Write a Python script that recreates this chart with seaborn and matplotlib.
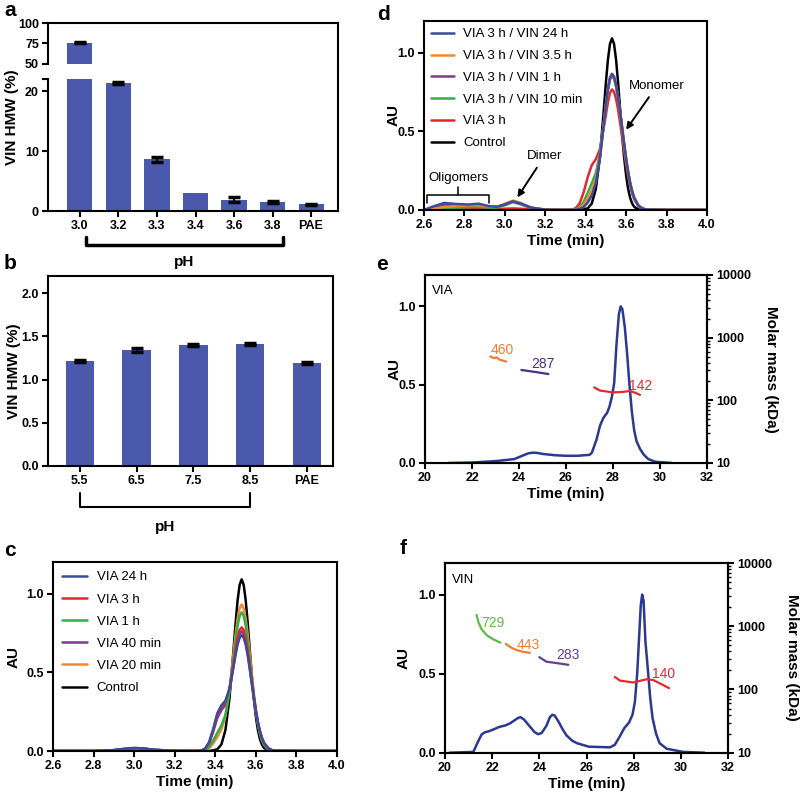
import numpy as np
import pandas as pd
import matplotlib.pyplot as plt
import seaborn as sns
from matplotlib.lines import Line2D
from matplotlib.ticker import FormatStrFormatter, NullFormatter

W, H = 800, 802

# ---------------- data: panels a / b (HMW %) ----------------
ph_a = ['3.0', '3.2', '3.3', '3.4', '3.6', '3.8', 'PAE']
hmw_a = [76.0, 21.3, 8.6, 3.0, 1.9, 1.5, 1.1]
err_a = [1.0, 0.2, 0.45, 0.0, 0.45, 0.1, 0.1]

ph_b = ['5.5', '6.5', '7.5', '8.5', 'PAE']
hmw_b = [1.22, 1.34, 1.40, 1.41, 1.19]
err_b = [0.01, 0.025, 0.01, 0.01, 0.01]

# ---------------- data: panel c (SEC traces, VIA) ----------------
t_c = [2.60, 2.80, 2.90, 2.95, 3.00, 3.05, 3.10, 3.20, 3.30,
       3.33, 3.35, 3.37, 3.39, 3.41, 3.43, 3.45, 3.47, 3.49, 3.50, 3.51, 3.52, 3.53, 3.54,
       3.55, 3.56, 3.57, 3.58, 3.59, 3.60, 3.61, 3.62, 3.63, 3.64, 3.66, 3.68, 3.70, 3.80, 4.00]
c_via24h = [0, 0, 0.006, 0.014, 0.02, 0.016, 0.008, 0.001, 0,
            0.002, 0.015, 0.058, 0.14, 0.24, 0.29, 0.32, 0.39, 0.535, 0.61, 0.676, 0.719, 0.735, 0.719,
            0.674, 0.605, 0.52, 0.427, 0.336, 0.254, 0.183, 0.127, 0.084, 0.053, 0.019, 0.006, 0.0015, 0, 0]
c_via3h = [0, 0, 0.005, 0.012, 0.017, 0.014, 0.007, 0.001, 0,
           0.002, 0.015, 0.054, 0.136, 0.229, 0.281, 0.311, 0.40, 0.56, 0.647, 0.719, 0.768, 0.785, 0.768,
           0.717, 0.641, 0.546, 0.446, 0.348, 0.259, 0.184, 0.126, 0.082, 0.051, 0.017, 0.005, 0.001, 0, 0]
c_via1h = [0, 0, 0.005, 0.012, 0.017, 0.014, 0.007, 0.001, 0,
           0.001, 0.007, 0.026, 0.067, 0.116, 0.162, 0.229, 0.373, 0.59, 0.70, 0.795, 0.858, 0.88, 0.858,
           0.794, 0.698, 0.583, 0.461, 0.348, 0.248, 0.168, 0.108, 0.067, 0.039, 0.011, 0.003, 0.0006, 0, 0]
c_via40 = [0, 0, 0.005, 0.012, 0.017, 0.014, 0.007, 0.001, 0,
           0.002, 0.014, 0.049, 0.124, 0.209, 0.259, 0.294, 0.384, 0.541, 0.625, 0.696, 0.743, 0.76, 0.743,
           0.694, 0.62, 0.529, 0.432, 0.337, 0.251, 0.179, 0.122, 0.079, 0.049, 0.017, 0.005, 0.001, 0, 0]
c_via20 = [0, 0, 0.005, 0.012, 0.017, 0.014, 0.007, 0.001, 0,
           0.001, 0.005, 0.019, 0.048, 0.089, 0.137, 0.22, 0.385, 0.621, 0.739, 0.839, 0.906, 0.93, 0.906,
           0.839, 0.737, 0.616, 0.487, 0.367, 0.262, 0.178, 0.114, 0.07, 0.041, 0.012, 0.003, 0, 0, 0]
c_control = [0, 0, 0, 0, 0, 0, 0, 0, 0,
             0, 0, 0.001, 0.004, 0.011, 0.041, 0.133, 0.334, 0.644, 0.811, 0.956, 1.055, 1.09, 1.055,
             0.956, 0.811, 0.644, 0.479, 0.334, 0.218, 0.133, 0.076, 0.041, 0.02, 0.004, 0.001, 0, 0, 0]

# ---------------- data: panel d (SEC traces, VIA 3 h then VIN) ----------------
t_d = [2.60, 2.64, 2.70, 2.76, 2.82, 2.87, 2.92, 2.96, 3.00, 3.04, 3.08, 3.13, 3.20, 3.30,
       3.33, 3.35, 3.37, 3.39, 3.41, 3.43, 3.45, 3.47, 3.49, 3.50, 3.51, 3.52, 3.53, 3.54,
       3.55, 3.56, 3.57, 3.58, 3.59, 3.60, 3.61, 3.62, 3.63, 3.64, 3.66, 3.68, 3.70, 3.80, 4.00]
d_vin24h = [0, 0.02, 0.045, 0.038, 0.035, 0.04, 0.025, 0.02, 0.035, 0.055, 0.04, 0.015, 0.002, 0,
            0, 0.001, 0.006, 0.019, 0.047, 0.091, 0.172, 0.326, 0.551, 0.669, 0.768, 0.836, 0.86, 0.843,
            0.794, 0.718, 0.624, 0.522, 0.419, 0.323, 0.239, 0.17, 0.116, 0.077, 0.029, 0.0095, 0.0026, 0, 0]
d_vin35h = [0, 0.008, 0.018, 0.025, 0.03, 0.03, 0.022, 0.02, 0.04, 0.06, 0.045, 0.015, 0.002, 0,
            0.0005, 0.0025, 0.01, 0.033, 0.074, 0.125, 0.199, 0.338, 0.553, 0.666, 0.765, 0.831, 0.855, 0.838,
            0.789, 0.714, 0.621, 0.519, 0.416, 0.321, 0.238, 0.169, 0.115, 0.076, 0.029, 0.0094, 0.0026, 0, 0]
d_vin1h = [0, 0.015, 0.035, 0.03, 0.03, 0.035, 0.022, 0.02, 0.035, 0.055, 0.04, 0.015, 0.002, 0,
           0, 0.002, 0.008, 0.025, 0.058, 0.106, 0.185, 0.33, 0.555, 0.673, 0.772, 0.841, 0.865, 0.848,
           0.798, 0.722, 0.628, 0.525, 0.421, 0.324, 0.24, 0.171, 0.117, 0.077, 0.029, 0.0095, 0.0026, 0, 0]
d_vin10 = [0, 0.005, 0.01, 0.015, 0.018, 0.02, 0.015, 0.015, 0.03, 0.05, 0.035, 0.012, 0.002, 0,
           0.0007, 0.004, 0.016, 0.052, 0.11, 0.17, 0.235, 0.355, 0.556, 0.668, 0.763, 0.827, 0.85, 0.833,
           0.785, 0.71, 0.617, 0.516, 0.414, 0.319, 0.236, 0.168, 0.115, 0.076, 0.029, 0.0094, 0.0026, 0, 0]
d_via3h = [0, 0.002, 0.005, 0.006, 0.006, 0.006, 0.005, 0.005, 0.008, 0.01, 0.008, 0.004, 0.001, 0,
           0.002, 0.011, 0.042, 0.113, 0.21, 0.285, 0.322, 0.385, 0.528, 0.605, 0.685, 0.744, 0.765, 0.75,
           0.706, 0.639, 0.555, 0.464, 0.373, 0.287, 0.213, 0.151, 0.103, 0.068, 0.026, 0.0084, 0.0023, 0, 0]
d_control = [0, 0, 0, 0, 0, 0, 0, 0, 0, 0, 0, 0, 0, 0,
             0, 0, 0.001, 0.004, 0.011, 0.041, 0.133, 0.334, 0.644, 0.811, 0.956, 1.055, 1.09, 1.055,
             0.956, 0.811, 0.644, 0.479, 0.334, 0.218, 0.133, 0.076, 0.041, 0.02, 0.004, 0.001, 0, 0, 0]

# ---------------- data: panel e (SEC-MALS, VIA) ----------------
t_e = [21.0, 22.0, 23.0, 23.8, 24.2, 24.4, 24.6, 24.8, 25.0, 25.5,
       26.0, 26.5, 27.0, 27.1, 27.3, 27.45, 27.6, 27.75, 27.85, 27.95,
       28.05, 28.15, 28.25, 28.33, 28.4, 28.5, 28.6, 28.7, 28.8, 28.9,
       29.0, 29.15, 29.3, 29.5, 29.8, 30.5]
au_e = [0.0, 0.003, 0.012, 0.025, 0.05, 0.062, 0.066, 0.064, 0.058, 0.05,
        0.046, 0.046, 0.052, 0.065, 0.15, 0.24, 0.29, 0.32, 0.36, 0.42,
        0.51, 0.76, 0.95, 1.0, 0.98, 0.87, 0.70, 0.50, 0.33, 0.21,
        0.14, 0.09, 0.055, 0.025, 0.008, 0.0]
mm_e_t1 = [22.78, 22.95, 23.05, 23.15, 23.45]
mm_e_1 = [500, 470, 485, 450, 415]
mm_e_t2 = [24.1, 24.6, 25.25]
mm_e_2 = [305, 287, 263]
mm_e_t3 = [27.2, 27.45, 28.0, 28.4, 28.72, 28.95, 29.15]
mm_e_3 = [161, 143, 134, 136, 141, 132, 122]
mm_e_labels = ['460', '287', '142']

# ---------------- data: panel f (SEC-MALS, VIN) ----------------
t_f = [20.2, 21.2, 21.4, 21.55, 21.7, 21.85, 22.1, 22.3, 22.55, 22.75,
       22.95, 23.1, 23.2, 23.35, 23.6, 23.8, 23.95, 24.1, 24.3, 24.45,
       24.55, 24.65, 24.8, 25.0, 25.15, 25.4, 25.6, 26.1, 27.0, 27.2,
       27.4, 27.6, 27.8, 27.95, 28.05, 28.15, 28.22, 28.3, 28.36, 28.42,
       28.5, 28.6, 28.7, 28.8, 28.95, 29.1, 29.4, 30.1, 31.0]
au_f = [0, 0.005, 0.07, 0.115, 0.13, 0.135, 0.15, 0.163, 0.172, 0.185,
        0.205, 0.22, 0.225, 0.21, 0.165, 0.13, 0.117, 0.125, 0.17, 0.225,
        0.24, 0.235, 0.2, 0.145, 0.11, 0.075, 0.06, 0.038, 0.034, 0.05,
        0.1, 0.155, 0.19, 0.24, 0.32, 0.5, 0.7, 0.93, 1.0, 0.96,
        0.7, 0.53, 0.35, 0.22, 0.12, 0.06, 0.025, 0.005, 0]
mm_f_t1 = [21.34, 21.42, 21.55, 21.77, 22.05, 22.35]
mm_f_1 = [1510, 1150, 900, 720, 620, 550]
mm_f_t2 = [22.58, 22.8, 23.04, 23.3, 23.6]
mm_f_2 = [525, 460, 420, 395, 380]
mm_f_t3 = [24.0, 24.3, 24.87, 25.23]
mm_f_3 = [325, 275, 257, 245]
mm_f_t4 = [27.2, 27.42, 27.98, 28.55, 28.83, 29.2, 29.5]
mm_f_4 = [158, 138, 129, 145, 141, 120, 105]
mm_f_labels = ['729', '443', '283', '140']

# ---------------- style ----------------
sns.set_theme(style='ticks')
plt.rcParams['font.family'] = ['Liberation Sans', 'DejaVu Sans']
plt.rcParams.update({
    'font.weight': 'bold', 'axes.labelweight': 'bold',
    'axes.linewidth': 1.5, 'axes.edgecolor': 'black',
    'xtick.major.width': 1.5, 'ytick.major.width': 1.5,
    'xtick.major.size': 4, 'ytick.major.size': 4,
    'ytick.minor.width': 1.0, 'ytick.minor.size': 2.5,
    'xtick.labelsize': 9, 'ytick.labelsize': 9, 'axes.labelsize': 11,
    'xtick.color': 'black', 'ytick.color': 'black',
    'text.color': 'black', 'axes.labelcolor': 'black',
    'xtick.major.pad': 2.5, 'ytick.major.pad': 2.5,
})

bar_color = '#4a59ab'
c_blue, c_red, c_green = '#3b4c9e', '#e3272f', '#2fae4a'
c_purple, c_orange = '#7a3d96', '#f5892e'
navy = '#2b3990'
norm = {'weight': 'normal', 'size': 9.5}
LW = 1.8


def px_box(x0, y0, x1, y1):
    return [x0 / W, 1 - y1 / H, (x1 - x0) / W, (y1 - y0) / H]


fig = plt.figure(figsize=(W / 100, H / 100), dpi=100)


def bars(ax, cats, vals, errs, width):
    sns.barplot(x=cats, y=vals, color=bar_color, width=width, saturation=1,
                linewidth=0, ax=ax)
    idx = [i for i, e in enumerate(errs) if e > 0]
    ax.errorbar(idx, [vals[i] for i in idx], yerr=[errs[i] for i in idx], fmt='none',
                ecolor='black', elinewidth=1.5, capsize=4.5, capthick=2.5)


# ---- a (broken axis) ----
ax_at = fig.add_axes(px_box(48, 23, 338, 64))
ax_a = fig.add_axes(px_box(48, 79, 338, 211))
for ax in (ax_at, ax_a):
    bars(ax, ph_a, hmw_a, err_a, 0.65)
    ax.set_xlim(-0.83, 6.7)
ax_at.set_ylim(50, 100)
ax_at.set_yticks([50, 75, 100])
ax_at.spines['bottom'].set_visible(False)
ax_at.tick_params(bottom=False, labelbottom=False)
ax_a.set_ylim(0, 22)
ax_a.set_yticks([0, 10, 20, 22], ['0', '10', '20', ''])
ax_a.spines['top'].set_visible(False)
fig.add_artist(Line2D([338 / W, 338 / W], [1 - 64 / H, 1 - 79 / H], color='black', lw=1.5))
fig.text(12 / W, 1 - 117 / H, 'VIN HMW (%)', rotation=90, ha='center', va='center', fontsize=11)
tr = ax_a.get_xaxis_transform()
ax_a.plot([0.16, 0.16, 5.27, 5.27], [-0.197, -0.258, -0.258, -0.197], transform=tr,
          clip_on=False, color='black', lw=2.5)
ax_a.text(2.7, -0.39, 'pH', transform=tr, ha='center', va='center', fontsize=11)

# ---- b ----
ax_b = fig.add_axes(px_box(48, 276, 333, 466))
bars(ax_b, ph_b, hmw_b, err_b, 0.5)
ax_b.set_xlim(-0.56, 4.46)
ax_b.set_ylim(0, 2.2)
ax_b.set_yticks([0, 0.5, 1.0, 1.5, 2.0])
ax_b.yaxis.set_major_formatter(FormatStrFormatter('%.1f'))
ax_b.set_ylabel('VIN HMW (%)', labelpad=0)
tr = ax_b.get_xaxis_transform()
ax_b.plot([0, 0, 3, 3], [-0.142, -0.216, -0.216, -0.142], transform=tr,
          clip_on=False, color='black', lw=1.5)
ax_b.text(1.5, -0.32, 'pH', transform=tr, ha='center', va='center', fontsize=11)


def traces(ax, t, series, legend_kw):
    for name, vals, col in reversed(series):
        sns.lineplot(x=t, y=vals, color=col, lw=LW, label=name, ax=ax)
    h, l = ax.get_legend_handles_labels()
    ax.legend(h[::-1], l[::-1], loc='upper left', frameon=False, prop=norm,
              handletextpad=0.7, **legend_kw)
    ax.set_xlim(2.6, 4.0)
    ax.set_ylim(0, 1.2)
    ax.set_xticks([2.6, 2.8, 3.0, 3.2, 3.4, 3.6, 3.8, 4.0])
    ax.set_yticks([0, 0.5, 1.0])
    ax.xaxis.set_major_formatter(FormatStrFormatter('%.1f'))
    ax.yaxis.set_major_formatter(FormatStrFormatter('%.1f'))
    ax.set_xlabel('Time (min)', labelpad=2)


# ---- c ----
ax_c = fig.add_axes(px_box(53, 562, 337, 751))
traces(ax_c, t_c, [('VIA 24 h', c_via24h, c_blue), ('VIA 3 h', c_via3h, c_red),
                   ('VIA 1 h', c_via1h, c_green), ('VIA 40 min', c_via40, c_purple),
                   ('VIA 20 min', c_via20, c_orange), ('Control', c_control, 'black')],
       dict(handlelength=1.9, labelspacing=0.75, borderaxespad=0.3))
ax_c.set_ylabel('AU')

# ---- d ----
ax_d = fig.add_axes(px_box(424, 21, 707, 210))
traces(ax_d, t_d, [('VIA 3 h / VIN 24 h', d_vin24h, c_blue),
                   ('VIA 3 h / VIN 3.5 h', d_vin35h, c_orange),
                   ('VIA 3 h / VIN 1 h', d_vin1h, c_purple),
                   ('VIA 3 h / VIN 10 min', d_vin10, c_green),
                   ('VIA 3 h', d_via3h, c_red), ('Control', d_control, 'black')],
       dict(handlelength=1.7, labelspacing=0.72, borderaxespad=0.15))
ax_d.set_ylabel('AU', labelpad=-2)
arw = dict(arrowstyle='-|>', color='black', lw=1.4, mutation_scale=10, shrinkA=2, shrinkB=0)
ax_d.annotate('Monomer', xy=(3.60, 0.51), xytext=(3.753, 0.79), ha='center', va='center',
              arrowprops=arw, fontsize=9.5, fontweight='normal')
ax_d.annotate('Dimer', xy=(3.062, 0.08), xytext=(3.196, 0.342), ha='center', va='center',
              arrowprops=arw, fontsize=9.5, fontweight='normal')
ax_d.text(2.77, 0.205, 'Oligomers', ha='center', va='center', fontsize=9.5, fontweight='normal')
ax_d.plot([2.613, 2.613, 2.923, 2.923], [0.046, 0.095, 0.095, 0.046], color='black', lw=1.1)
ax_d.plot([2.77, 2.77], [0.095, 0.147], color='black', lw=1.1)


def mals(ax, t, au, segs, labels, tag, ylabel_pad, right_label_x):
    sns.lineplot(x=t, y=au, color=navy, lw=LW, ax=ax)
    ax.set_xlim(20, 32)
    ax.set_ylim(0, 1.2)
    ax.set_xticks([20, 22, 24, 26, 28, 30, 32])
    ax.set_yticks([0, 0.5, 1.0])
    ax.yaxis.set_major_formatter(FormatStrFormatter('%.1f'))
    ax.set_xlabel('Time (min)', labelpad=2)
    ax.set_ylabel('AU', labelpad=ylabel_pad)
    ax.text(20.3, 1.095, tag, ha='left', va='center', fontsize=9.5, fontweight='normal')
    ax2 = ax.twinx()
    for (st, sm, col), (lt, lm, txt) in zip(segs, labels):
        sns.lineplot(x=st, y=sm, color=col, lw=1.6, ax=ax2)
        ax2.text(lt, lm, txt, color=col, ha='center', va='center', fontsize=10,
                 fontweight='normal')
    ax2.set_yscale('log')
    ax2.set_ylim(10, 10000)
    ax2.set_yticks([10, 100, 1000, 10000], ['10', '100', '1000', '10000'])
    ax2.yaxis.set_minor_formatter(NullFormatter())
    ax2.set_ylabel('Molar mass (kDa)', rotation=270)
    ax2.yaxis.set_label_coords(right_label_x, 0.5)
    ax2.yaxis.label.set_ha('center')
    ax2.yaxis.label.set_va('center')
    return ax2


# ---- e ----
ax_e = fig.add_axes(px_box(425, 275, 707, 463))
mals(ax_e, t_e, au_e,
     [(mm_e_t1, mm_e_1, '#ef7d2e'), (mm_e_t2, mm_e_2, '#4b2f85'), (mm_e_t3, mm_e_3, '#e8282e')],
     [(23.28, 647, mm_e_labels[0]), (25.02, 384, mm_e_labels[1]), (29.18, 169, mm_e_labels[2])],
     'VIA', -2, 1 + (771 - 707) / 282)

# ---- f ----
ax_f = fig.add_axes(px_box(445, 563, 728, 752.7))
mals(ax_f, t_f, au_f,
     [(mm_f_t1, mm_f_1, '#5cbb46'), (mm_f_t2, mm_f_2, '#ef7d2e'),
      (mm_f_t3, mm_f_3, '#6a3b93'), (mm_f_t4, mm_f_4, '#e8282e')],
     [(22.05, 1125, mm_f_labels[0]), (23.53, 500, mm_f_labels[1]),
      (25.23, 348, mm_f_labels[2]), (29.25, 173, mm_f_labels[3])],
     'VIN', 6, 1 + (792 - 728) / 283)

# panel letters
for letter, x, y in [('a', 10, 10), ('b', 10, 264), ('c', 10, 550),
                     ('d', 383, 14), ('e', 382, 265), ('f', 403, 549)]:
    fig.text(x / W, 1 - y / H, letter, ha='center', va='center', fontsize=15)

fig.savefig('out.png', dpi=100)
